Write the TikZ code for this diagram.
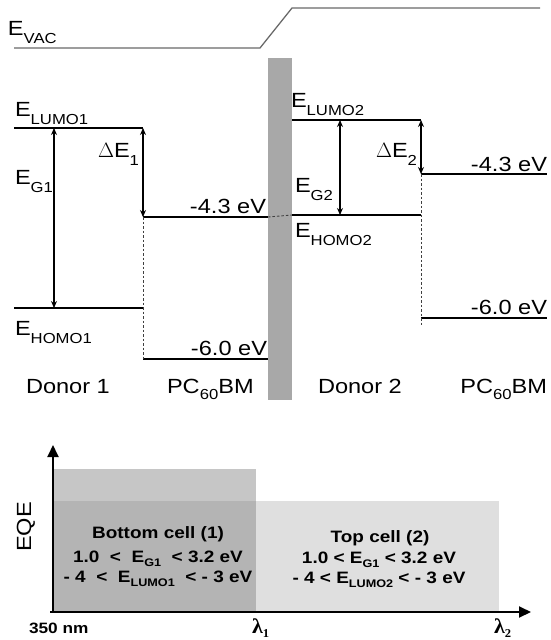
\documentclass[tikz,border=0pt]{standalone}
\usepackage{fontspec}
\setmainfont{Liberation Sans}[FakeStretch=1.15]
\newfontfamily\lamfont{Liberation Serif}[FakeStretch=1.05]
\usetikzlibrary{arrows.meta}
\definecolor{barc}{RGB}{168,168,168}
\definecolor{vacc}{RGB}{105,105,105}
\definecolor{ra}{RGB}{198,198,198}
\definecolor{rb}{RGB}{223,223,223}
\definecolor{rab}{RGB}{180,180,180}
\newcommand{\lsb}[1]{\raisebox{-8.5pt}{\fontsize{14.5}{15}\selectfont #1}}
\newcommand{\psb}[1]{\raisebox{-6pt}{\fontsize{14.5}{15}\selectfont #1}}
\newcommand{\csb}[1]{\raisebox{-4.5pt}{\fontsize{11}{12}\selectfont\bfseries #1}}
\newcommand{\lsub}[1]{\raisebox{-4pt}{\fontsize{12}{13}\selectfont\bfseries #1}}
\begin{document}
\begin{tikzpicture}[x=1pt,y=-1pt,
  lvl/.style={line width=2.2pt},
  darr/.style={line width=1.2pt,{Stealth[length=7pt,width=6pt]}-{Stealth[length=7pt,width=6pt]}},
  dsh/.style={line width=0.9pt,dash pattern=on 2.5pt off 2pt,black!75},
  lab/.style={inner sep=0pt,outer sep=0pt,font=\fontsize{20.5}{23}\selectfont},
  cl/.style={inner sep=0pt,outer sep=0pt,font=\fontsize{16.5}{19}\selectfont\bfseries},
  sm/.style={inner sep=0pt,outer sep=0pt,font=\fontsize{15}{17}\selectfont\bfseries},
  lam/.style={inner sep=0pt,outer sep=0pt,font=\fontsize{21}{23}\selectfont\lamfont\bfseries},
  ax/.style={line width=2pt,-{Triangle[length=12pt,width=11pt]}}]
\useasboundingbox (0,0) rectangle (551,640);

% ---- coordinates ----
\coordinate (v1) at (14,48);  \coordinate (v2) at (260,48);
\coordinate (v3) at (292,8);  \coordinate (v4) at (540,8);
\coordinate (L1a) at (14,128);  \coordinate (L1b) at (143,128);
\coordinate (H1a) at (14,308);  \coordinate (H1b) at (143,308);
\coordinate (P1La) at (143,217); \coordinate (P1Lb) at (268,217);
\coordinate (P1Ha) at (143,359); \coordinate (P1Hb) at (268,359);
\coordinate (L2a) at (292,120); \coordinate (L2b) at (421,120);
\coordinate (H2a) at (292,215); \coordinate (H2b) at (421,215);
\coordinate (P2La) at (421,174); \coordinate (P2Lb) at (547,174);
\coordinate (P2Ha) at (421,318); \coordinate (P2Hb) at (547,318);
\coordinate (P2Hd) at (421,325);
\coordinate (g1t) at (54,128); \coordinate (g1b) at (54,308);
\coordinate (g2t) at (340,120); \coordinate (g2b) at (340,215);

% ---- vacuum level ----
\draw[vacc,line width=1.3pt] (v1) -- (v2) -- (v3) -- (v4);
\node[lab,anchor=base west] (evac) at (8,35) {E\lsb{VAC}};

% ---- interlayer bar ----
\fill[barc] (268,58) rectangle (292,400);
\draw[dsh] (P1Lb) -- (H2a);

% ---- levels ----
\draw[lvl] (L1a) -- (L1b);
\draw[lvl] (H1a) -- (H1b);
\draw[lvl] (P1La) -- (P1Lb);
\draw[lvl] (P1Ha) -- (P1Hb);
\draw[lvl] (L2a) -- (L2b);
\draw[lvl] (H2a) -- (H2b);
\draw[lvl] (P2La) -- (P2Lb);
\draw[lvl] (P2Ha) -- (P2Hb);

% ---- dashed verticals ----
\draw[dsh] (P1La) -- (P1Ha);
\draw[dsh] (P2La) -- (P2Hd);

% ---- arrows ----
\draw[darr] (g1t) -- (g1b);
\draw[darr] (L1b) -- (P1La);
\draw[darr] (g2t) -- (g2b);
\draw[darr] (L2b) -- (P2La);

% ---- labels ----
\node[lab,anchor=base west] (elumo1) at (15,116) {E\lsb{LUMO1}};
\node[lab,anchor=base west] (de1) at (98,157) {$\Delta$E\lsb{1}};
\node[lab,anchor=base west] (eg1) at (15,184) {E\lsb{G1}};
\node[lab,anchor=base west] (ehomo1) at (15,335) {E\lsb{HOMO1}};
\node[lab,anchor=base east] (p1l) at (266,213) {-4.3 eV};
\node[lab,anchor=base east] (p1h) at (267,355) {-6.0 eV};
\node[lab,anchor=base west] (elumo2) at (291,107) {E\lsb{LUMO2}};
\node[lab,anchor=base west] (eg2) at (295,192) {E\lsb{G2}};
\node[lab,anchor=base west] (ehomo2) at (295,237) {E\lsb{HOMO2}};
\node[lab,anchor=base west] (de2) at (376,157) {$\Delta$E\lsb{2}};
\node[lab,anchor=base east] (p2l) at (547,171) {-4.3 eV};
\node[lab,anchor=base east] (p2h) at (547,314) {-6.0 eV};

\node[lab,anchor=base west] (d1) at (26,393) {Donor 1};
\node[lab,anchor=base west] (a1) at (167,393) {PC\psb{60}BM};
\node[lab,anchor=base west] (d2) at (318,393) {Donor 2};
\node[lab,anchor=base east] (a2) at (547,393) {PC\psb{60}BM};

% ---- EQE chart ----
\fill[ra] (53,469) rectangle (256,612);
\fill[rb] (53,501) rectangle (499,612);
\fill[rab] (53,501) rectangle (256,612);
\coordinate (o) at (53,612);
\coordinate (xl) at (50,612);
\coordinate (yt) at (53,445);
\coordinate (xt) at (531,612);
\draw[ax] (o) -- (yt);
\draw[ax] (xl) -- (xt);

\node[lab,rotate=90,font=\fontsize{20.5}{22}\selectfont] (eqe) at (26,527) {EQE};

\node[cl,anchor=base] (b1) at (158,538) {Bottom cell (1)};
\node[cl,anchor=base] (b2) at (158,562) {1.0\ \ <\ \ E\csb{G1}\ \ < 3.2 eV};
\node[cl,anchor=base] (b3) at (158,582) {- 4\ \ <\ \ E\csb{LUMO1}\ \ < - 3 eV};
\node[cl,anchor=base] (t1) at (380,542) {Top cell (2)};
\node[cl,anchor=base] (t2) at (379,563) {1.0 < E\csb{G1} < 3.2 eV};
\node[cl,anchor=base] (t3) at (379,583) {- 4 < E\csb{LUMO2} < - 3 eV};

\node[sm,anchor=base west] (nm) at (29,633) {350 nm};
\node[lam,anchor=base west] (lam1) at (252,633) {λ\lsub{1}};
\node[lam,anchor=base west] (lam2) at (494,633) {λ\lsub{2}};
\end{tikzpicture}
\end{document}
